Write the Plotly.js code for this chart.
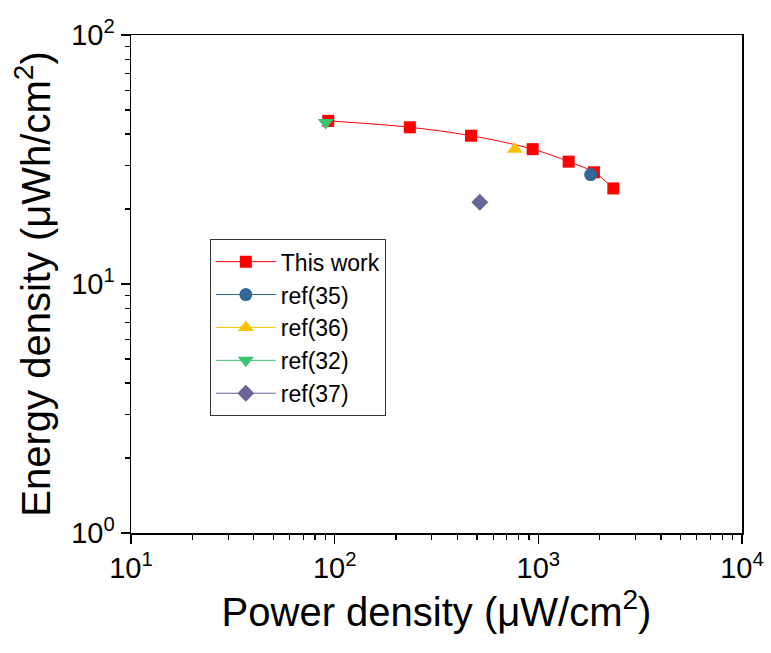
<!DOCTYPE html>
<html><head><meta charset="utf-8">
<script src="https://cdn.plot.ly/plotly-3.0.1.min.js"></script>
<style>html,body{margin:0;padding:0;background:#fff}#chart{width:771px;height:653px}</style>
</head><body><div id="chart"></div>
<script>
const thisWorkPower = [93, 234, 467, 938, 1409, 1875, 2334];
const thisWorkEnergy = [45.2, 42.6, 39.4, 34.8, 31.0, 28.1, 24.2];
const ref35Power = [1807], ref35Energy = [27.5];
const ref36Power = [767], ref36Energy = [34.8];
const ref32Power = [90.4], ref32Energy = [44.5];
const ref37Power = [516], ref37Energy = [21.3];
const xTickVals = [10, 100, 1000, 10000];
const xTickText = ['10<sup>1</sup>', '10<sup>2</sup>', '10<sup>3</sup>', '10<sup>4</sup>'];
const yTickVals = [1, 10, 100];
const yTickText = ['10<sup>0</sup>', '10<sup>1</sup>', '10<sup>2</sup>'];
const seriesNames = ['This work', 'ref(35)', 'ref(36)', 'ref(32)', 'ref(37)'];

function minorVals(lo, hi) {
  const v = [];
  for (let d = lo; d < hi; d *= 10) for (let k = 2; k <= 9; k++) v.push(d * k);
  return v;
}

const traces = [
  {x: thisWorkPower, y: thisWorkEnergy, name: seriesNames[0], mode: 'lines+markers',
   line: {color: '#FF0000', width: 1, shape: 'spline'},
   marker: {symbol: 'square', size: 12, color: '#FF0000'}},
  {x: ref35Power, y: ref35Energy, name: seriesNames[1], mode: 'lines+markers',
   line: {color: '#336699', width: 1}, marker: {symbol: 'circle', size: 13, color: '#336699'}},
  {x: ref36Power, y: ref36Energy, name: seriesNames[2], mode: 'lines+markers',
   line: {color: '#FFC000', width: 1}, marker: {symbol: 'triangle-up', size: 14, color: '#FFC000'}},
  {x: ref32Power, y: ref32Energy, name: seriesNames[3], mode: 'lines+markers',
   line: {color: '#3CC46F', width: 1}, marker: {symbol: 'triangle-down', size: 14, color: '#3CC46F'}},
  {x: ref37Power, y: ref37Energy, name: seriesNames[4], mode: 'lines+markers',
   line: {color: '#666699', width: 1}, marker: {symbol: 'diamond', size: 13, color: '#666699'}}
];

const font = 'Liberation Sans, Arial, sans-serif';
const layout = {
  width: 771, height: 653,
  margin: {l: 131, r: 29, t: 35, b: 120},
  paper_bgcolor: '#fff', plot_bgcolor: '#fff',
  font: {family: font, color: '#000'},
  showlegend: true,
  legend: {x: 0.129, y: 0.59, xanchor: 'left', yanchor: 'top',
    bordercolor: '#333', borderwidth: 1, bgcolor: '#fff',
    font: {size: 23, family: font}, tracegroupgap: 0, itemwidth: 60},
  xaxis: {type: 'log', range: [1, 4], tickmode: 'array', tickvals: xTickVals, ticktext: xTickText,
    ticks: 'outside', ticklen: 9, tickwidth: 1.5, tickcolor: '#000',
    showline: true, linecolor: '#000', linewidth: 1.5, mirror: true, showgrid: false, zeroline: false,
    tickfont: {size: 29, family: font},
    minor: {tickmode: 'array', tickvals: minorVals(10, 10000), ticks: 'outside', ticklen: 5, tickwidth: 1.2, tickcolor: '#000', showgrid: false},
    title: {text: 'Power density (\u03bcW/cm<sup>2</sup>)', font: {size: 40, family: font}, standoff: 14}},
  yaxis: {type: 'log', range: [0, 2], tickmode: 'array', tickvals: yTickVals, ticktext: yTickText,
    ticks: 'outside', ticklen: 9, tickwidth: 1.5, tickcolor: '#000',
    showline: true, linecolor: '#000', linewidth: 1.5, mirror: true, showgrid: false, zeroline: false,
    tickfont: {size: 29, family: font},
    minor: {tickmode: 'array', tickvals: minorVals(1, 100), ticks: 'outside', ticklen: 5, tickwidth: 1.2, tickcolor: '#000', showgrid: false},
    title: {text: 'Energy density (\u03bcWh/cm<sup>2</sup>)', font: {size: 40, family: font}, standoff: 8}}
};

Plotly.newPlot('chart', traces, layout, {displayModeBar: false, staticPlot: true});
</script></body></html>
